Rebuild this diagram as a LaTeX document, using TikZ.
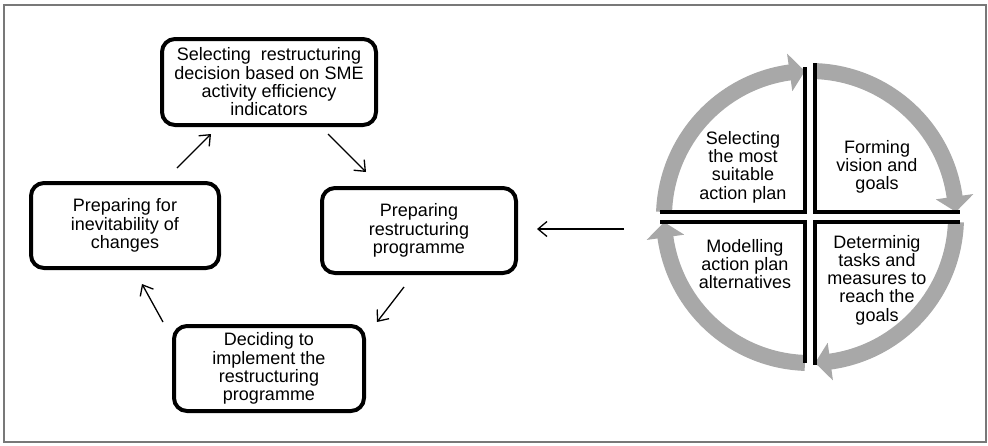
\documentclass[tikz,border=0pt]{standalone}
\usepackage{fontspec}
\setmainfont{Liberation Sans}
\usetikzlibrary{arrows.meta}
\definecolor{ringgray}{RGB}{168,168,168}
\definecolor{framegray}{RGB}{120,120,120}
\begin{document}
\begin{tikzpicture}[x=1pt,y=-1pt,
  box/.style={draw, line width=4pt, rounded corners=13pt, align=center,
    font=\fontsize{18}{18.3}\selectfont, inner sep=0pt},
  lbl/.style={align=center, font=\fontsize{18}{18.3}\selectfont, inner sep=0pt},
  arr/.style={line width=1.3pt, -{Straight Barb[length=9pt,width=15pt]}},
  divider/.style={line width=3.5pt}]
\useasboundingbox (0,0) rectangle (988,445);
\draw[framegray, line width=1.5pt] (4,5) rectangle (986,442);

% boxes
\node[box, minimum width=214pt, minimum height=86pt] (T) at (269,82)
  {Selecting~~restructuring\\decision based on SME\\activity efficiency\\indicators};
\node[box, minimum width=188pt, minimum height=85pt] (L) at (125,225.5)
  {Preparing for\\inevitability of\\changes};
\node[box, minimum width=194pt, minimum height=85pt] (R) at (419,230.5)
  {Preparing\\restructuring\\programme};
\node[box, minimum width=190pt, minimum height=85pt] (B) at (269,368.5)
  {Deciding to\\implement the\\restructuring\\programme};

% connectors
\coordinate (a1s) at (177,168); \coordinate (a1e) at (211,134);
\coordinate (a2s) at (328,134); \coordinate (a2e) at (366,172);
\coordinate (a3s) at (404,287); \coordinate (a3e) at (377,322);
\coordinate (a4s) at (163,322); \coordinate (a4e) at (142,284);
\coordinate (a5s) at (624,229); \coordinate (a5e) at (537,229);
\draw[arr] (a1s) -- (a1e);
\draw[arr] (a2s) -- (a2e);
\draw[arr] (a3s) -- (a3e);
\draw[arr] (a4s) -- (a4e);
\draw[arr] (a5s) -- (a5e);

% cycle ring
\begin{scope}[shift={(810,217)}, yscale=-1]
 \fill[ringgray] (178:138) arc[start angle=178, end angle=98, radius=138]
   -- (98:127) -- (92:146) -- (98:165) -- (98:154)
   arc[start angle=98, end angle=178, radius=154] -- cycle;
 \fill[ringgray] (88:138) arc[start angle=88, end angle=8, radius=138]
   -- (8:127) -- (2:146) -- (8:165) -- (8:154)
   arc[start angle=8, end angle=88, radius=154] -- cycle;
 \fill[ringgray] (-2:138) arc[start angle=-2, end angle=-82, radius=138]
   -- (-82:127) -- (-88:146) -- (-82:165) -- (-82:154)
   arc[start angle=-82, end angle=-2, radius=154] -- cycle;
 \fill[ringgray] (-92:138) arc[start angle=-92, end angle=-172, radius=138]
   -- (-172:127) -- (-178:146) -- (-172:165) -- (-172:154)
   arc[start angle=-172, end angle=-92, radius=154] -- cycle;
\end{scope}

% dividers
\draw[divider] (805,67) -- (805,212) -- (660,212);
\draw[divider] (815,63) -- (815,212) -- (960,212);
\draw[divider] (660,222) -- (805,222) -- (805,363);
\draw[divider] (960,222) -- (815,222) -- (815,365);

% quadrant texts
\node[lbl] (q1) at (743,167) {Selecting\\the most\\suitable\\action plan};
\node[lbl] (q2) at (877,167) {Forming\\vision and\\goals};
\node[lbl] (q3) at (745,264) {Modelling\\action plan\\alternatives};
\node[lbl] (q4) at (877,280) {Determinig\\tasks and\\measures to\\reach the\\goals};
\end{tikzpicture}
\end{document}
